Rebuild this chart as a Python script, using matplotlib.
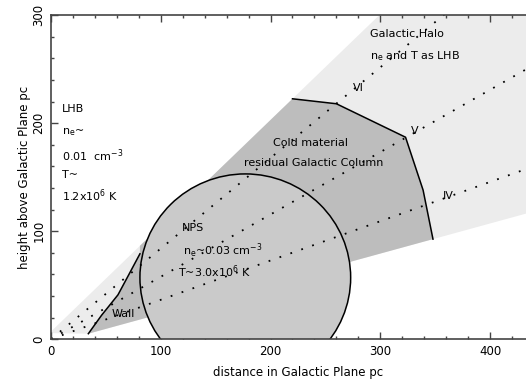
import numpy as np
import matplotlib
matplotlib.use("Agg")
import matplotlib.pyplot as plt
from matplotlib.patches import Polygon, Circle

plt.rcParams['font.family'] = ['DejaVu Sans']
plt.rcParams['mathtext.default'] = 'regular'

# cone edges (y = a*x + b)
upper_edge = (0.98, 7.0)
lower_edge = (0.279, -4.5)

# wall line (left edge of the cold material)
wall_x = [34, 46, 61, 70.5, 81]
wall_y = [5, 22, 41, 59, 79]

# outer edge of the cold material / residual galactic column
cold_x = [220, 260, 323, 339, 348]
cold_y = [222.6, 218, 187, 138, 92.6]

# NPS sphere
nps_center = (177, 57)
nps_radius = 96

# viewing directions (deg) and labels
dir_angles = [40, 30, 20]
dir_labels = ["VI", "V", "IV"]
dir_label_pos = [(275, 233), (328, 193), (357, 133)]

c_light = '#ececec'
c_dark = '#bdbdbd'
c_nps = '#cacaca'


def up(x):
    return upper_edge[0] * x + upper_edge[1]


def lo(x):
    return lower_edge[0] * x + lower_edge[1]


fig = plt.figure(figsize=(5.26, 3.81), dpi=100)
ax = fig.add_axes([0.097, 0.110, 0.939, 0.850])
ax.set_xlim(0, 450)
ax.set_ylim(0, 300)

# halo / LHB cone
x_top = (300 - upper_edge[1]) / upper_edge[0]
halo = [(0, 5.5), (34, lo(34)), (470, lo(470)), (470, 300), (x_top, 300), (0, up(0))]
ax.add_patch(Polygon(halo, closed=True, facecolor=c_light, edgecolor='none', zorder=1))

# cold material
cold = list(zip(wall_x, wall_y)) + [(wall_x[-1], up(wall_x[-1]))] + list(zip(cold_x, cold_y))
ax.add_patch(Polygon(cold, closed=True, facecolor=c_dark, edgecolor='none', zorder=2))
ax.plot(cold_x, cold_y, color='black', lw=1.1, zorder=3)
ax.plot(wall_x, wall_y, color='black', lw=1.1, zorder=3)

# NPS
ax.add_patch(Circle(nps_center, nps_radius, facecolor=c_nps, edgecolor='black', lw=1.1, zorder=4))

# dotted directions
r = np.array([0, 700])
for ang in dir_angles:
    t = np.radians(ang)
    ax.plot(r * np.cos(t), r * np.sin(t), color='black', lw=1.3,
            linestyle=(0, (1, 5.4)), zorder=5)
for lab, (lx, ly) in zip(dir_labels, dir_label_pos):
    ax.text(lx, ly, lab, fontsize=8, va='center', ha='left', zorder=6)

fs = 8
ax.text(291, 283, "Galactic Halo", fontsize=fs, va='center', zorder=6)
ax.text(291, 262, "n$_e$ and T as LHB", fontsize=fs, va='center', zorder=6)
ax.text(10, 213, "LHB", fontsize=fs, va='center', zorder=6)
ax.text(10, 192, "n$_e$~", fontsize=fs, va='center', zorder=6)
ax.text(10, 170, "0.01  cm$^{-3}$", fontsize=fs, va='center', zorder=6)
ax.text(10, 152, "T~", fontsize=fs, va='center', zorder=6)
ax.text(10, 133, "1.2x10$^6$ K", fontsize=fs, va='center', zorder=6)
ax.text(236, 182, "Cold material", fontsize=fs, va='center', ha='center', zorder=6)
ax.text(239, 163, "residual Galactic Column", fontsize=fs, va='center', ha='center', zorder=6)
ax.text(119, 103, "NPS", fontsize=fs, va='center', zorder=6)
ax.text(120, 82, "n$_e$~0.03 cm$^{-3}$", fontsize=fs, va='center', zorder=6)
ax.text(116, 62, "T~3.0x10$^6$ K", fontsize=fs, va='center', zorder=6)
ax.text(55.6, 23, "Wall", fontsize=fs, va='center', zorder=6)

ax.set_xticks([0, 100, 200, 300, 400])
ax.set_yticks([0, 100, 200, 300])
ax.set_xticks(np.arange(0, 451, 20), minor=True)
ax.set_yticks(np.arange(0, 301, 20), minor=True)
ax.tick_params(which='both', direction='in', top=True, right=True, labelsize=8.5,
               color='#444444')
ax.tick_params(which='major', length=5, width=1)
ax.tick_params(which='minor', length=2.5, width=1)
ax.tick_params(axis='x', pad=4)
ax.tick_params(axis='y', pad=4)
for lab in ax.get_yticklabels():
    lab.set_rotation(90)
    lab.set_va('center')
for s in ax.spines.values():
    s.set_color('#444444')
    s.set_linewidth(1.2)
    s.set_zorder(7)

ax.set_xlabel("distance in Galactic Plane pc", fontsize=8.5, labelpad=6)
ax.set_ylabel("height above Galactic Plane pc", fontsize=8.5, labelpad=1)

fig.savefig("out.png", dpi=100)
